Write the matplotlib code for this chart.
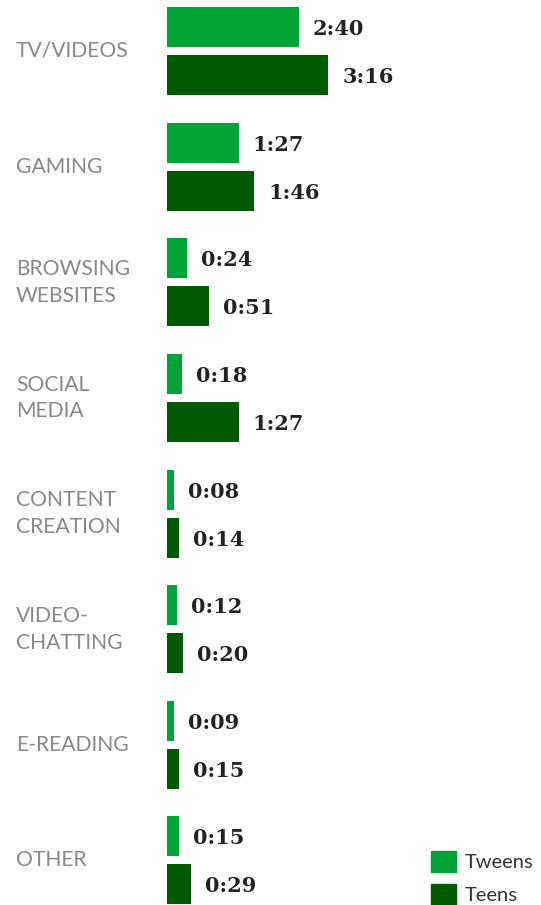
import matplotlib
matplotlib.use('Agg')
import matplotlib.pyplot as plt
from matplotlib.patches import Patch
from matplotlib.transforms import blended_transform_factory

categories = ['TV/VIDEOS', 'GAMING', 'BROWSING\nWEBSITES', 'SOCIAL\nMEDIA',
              'CONTENT\nCREATION', 'VIDEO-\nCHATTING', 'E-READING', 'OTHER']
# minutes per day
tweens = [160, 87, 24, 18, 8, 12, 9, 15]
teens = [196, 106, 51, 87, 14, 20, 15, 29]

c_tween = '#00a335'
c_teen = '#005a00'


def fmt(m):
    return '%d:%02d' % (m // 60, m % 60)


W, H = 541, 905
fig = plt.figure(figsize=(W / 100, H / 100), dpi=100)
ax = fig.add_axes([167 / W, 0, 329 / W, 1])

pos = list(range(len(categories)))
off = 0.2075
bh = 0.346
ax.barh([p - off for p in pos], tweens, height=bh, color=c_tween)
ax.barh([p + off for p in pos], teens, height=bh, color=c_teen)

ax.set_xlim(0, 400)
ax.set_ylim(7.385, -0.441)
ax.axis('off')

# value labels
for p, v in zip(pos, tweens):
    ax.annotate(fmt(v), (v, p - off), xytext=(14, -2), textcoords='offset pixels',
                va='center', ha='left', fontsize=15, fontweight='bold',
                family='DejaVu Serif', color='#222222')
for p, v in zip(pos, teens):
    ax.annotate(fmt(v), (v, p + off), xytext=(14, -2), textcoords='offset pixels',
                va='center', ha='left', fontsize=15, fontweight='bold',
                family='DejaVu Serif', color='#222222')

# category labels
tr = blended_transform_factory(fig.transFigure, ax.transData)
for p, c in zip(pos, categories):
    ax.text(16 / W, p, c, transform=tr, ha='left', va='center',
            fontsize=15.2, family='Lato', color='#888888', linespacing=1.42)

handles = [Patch(color=c_tween, label='Tweens'), Patch(color=c_teen, label='Teens')]
fig.legend(handles=handles, loc='lower left', bbox_to_anchor=(431 / W, 0),
           frameon=False, prop={'family': 'Lato', 'size': 14.5},
           handlelength=1.24, handleheight=1.24, handletextpad=0.45,
           labelspacing=0.6, borderpad=0, borderaxespad=0,
           labelcolor='#333333')

fig.savefig('out.png', dpi=100)
